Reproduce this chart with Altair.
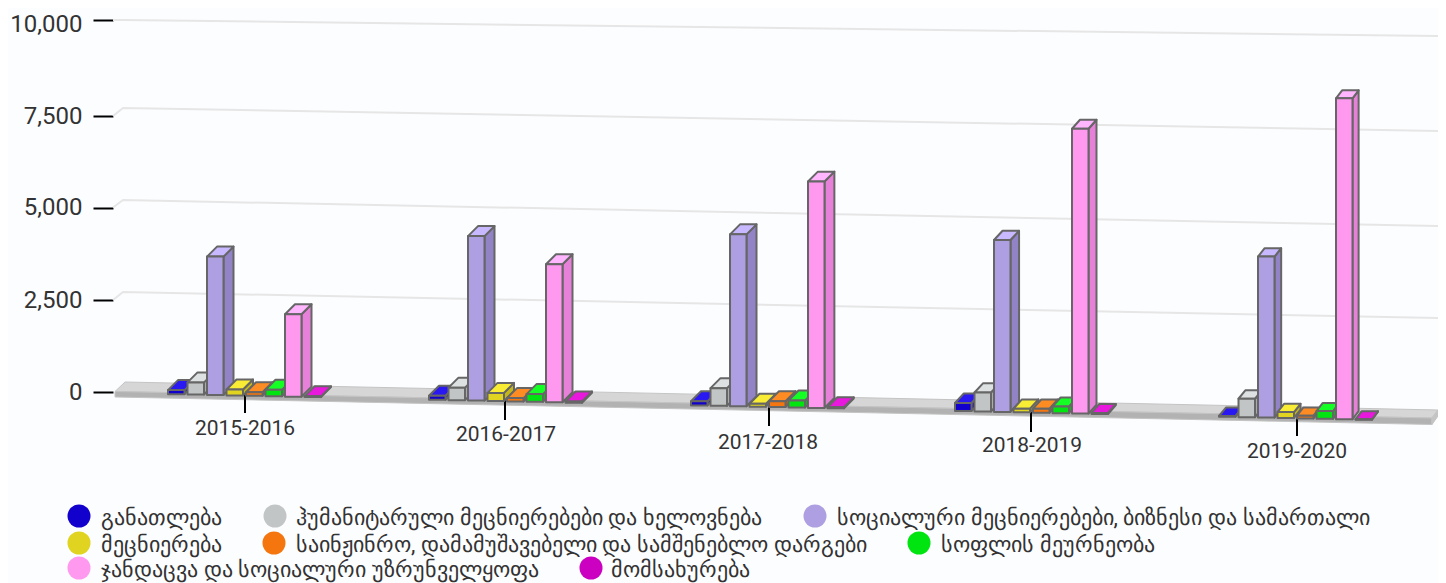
import altair as alt
import numpy as np
import pandas as pd

years = ["2015-2016", "2016-2017", "2017-2018", "2018-2019", "2019-2020"]
series = [
    "განათლება",
    "ჰუმანიტარული მეცნიერებები და ხელოვნება",
    "სოციალური მეცნიერებები, ბიზნესი და სამართალი",
    "მეცნიერება",
    "საინჟინრო, დამამუშავებელი და სამშენებლო დარგები",
    "სოფლის მეურნეობა",
    "ჯანდაცვა და სოციალური უზრუნველყოფა",
    "მომსახურება",
]
education = [110, 110, 110, 220, 20]
humanities = [330, 340, 480, 515, 500]
social = [3760, 4470, 4670, 4670, 4375]
science = [160, 220, 80, 100, 160]
engineering = [95, 90, 160, 110, 75]
agriculture = [175, 210, 190, 180, 210]
health = [2240, 3750, 6150, 7740, 8720]
services = [20, 30, 30, 30, 10]
values = [education, humanities, social, science, engineering, agriculture, health, services]

front_colors = ["#1200CC", "#C2C5C5", "#AE9FE2", "#E0D420", "#F5760E", "#00E510", "#FF99F0", "#CC00C0"]
top_colors = ["#2A18F2", "#DDE1E1", "#C8B8FF", "#F8EC34", "#FF8C22", "#14FF24", "#FFB6FF", "#E818DC"]
side_colors = ["#0E00A8", "#A9ACAC", "#9282C6", "#C4B818", "#D86200", "#00C40C", "#E680D8", "#A800A0"]

grid_levels = [2500, 5000, 7500, 10000]
grid_tick_y = [300, 207.5, 116, 20]
grid_left_y = [292, 200, 108, 14]
grid_right_y = [318, 226, 131, 36]

# ---- projection helpers (page pixels -> data units) ----
OFF = 8
Y_DOMAIN = [-2000, 0, 2500, 5000, 7500, 10000]
Y_PAGE = [465.6, 392, 300, 207.7, 116, 20]
GROUP_X = [168, 429, 691, 955, 1219]


def yval(page_y):
    return float(np.interp(-page_y, [-p for p in Y_PAGE], Y_DOMAIN))


K = 0.0368


def base_y(x):
    return 394 + 0.0215 * (x - 170)


def depth(x):
    return float(np.interp(x, [170, 800, 1360], [10, 10, 6])), float(np.interp(x, [170, 800, 1360], [10, 10, 8]))


poly_rows = []
pid = [0]


def polygon(points, fill, rows):
    """Convex polygon in page pixels -> area rows (upper and lower boundary per x)."""
    xs = sorted({round(p[0], 3) for p in points})
    n = len(points)
    edges = [(points[i], points[(i + 1) % n]) for i in range(n)]
    for x in xs:
        ys = [p[1] for p in points if abs(p[0] - x) < 1e-3]
        for a, b in edges:
            lo, hi = min(a[0], b[0]), max(a[0], b[0])
            if lo <= x <= hi and hi > lo:
                ys.append(a[1] + (b[1] - a[1]) * (x - a[0]) / (b[0] - a[0]))
        rows.append(dict(id=pid[0], x=x - OFF, y=yval(min(ys)), y2=yval(max(ys)), fill=fill))
    pid[0] += 1


for g in range(len(years)):
    for s in range(len(series)):
        x0 = GROUP_X[g] + 19.5 * s
        x1 = x0 + 16.5
        mid = (x0 + x1) / 2
        b = base_y(mid)
        t = b - values[s][g] * K
        dx, dy = depth(mid)
        polygon([(x1, t), (x1 + dx, t - dy), (x1 + dx, b - dy), (x1, b)], side_colors[s], poly_rows)
        polygon([(x0, t), (x0 + dx, t - dy), (x1 + dx, t - dy), (x1, t)], top_colors[s], poly_rows)
        polygon([(x0, t), (x1, t), (x1, b), (x0, b)], front_colors[s], poly_rows)

floor_rows = []
polygon([(125, 382), (1438, 410), (1432, 418), (115, 391.5)], "#D6D6D6", floor_rows)
polygon([(115, 391.5), (1432, 418), (1432, 424.5), (115, 397)], "#B2B2B2", floor_rows)
polygon([(1432, 418), (1438, 410), (1438, 416), (1432, 424.5)], "#C4C4C4", floor_rows)

grid_rows = []
for i, lvl in enumerate(grid_levels):
    for px, py in [(113, grid_tick_y[i]), (123, grid_left_y[i]), (1438, grid_right_y[i])]:
        grid_rows.append(dict(level=lvl, x=px - OFF, y=yval(py)))

tick_x = [245, 505, 769, 1031, 1297]
tick_top = [394, 400, 405, 412, 417]
tick_bottom = [413, 420, 426, 432, 436]
label_x = [245, 506, 768, 1032, 1297]
label_y = [429, 435, 443, 446, 452]
cat_df = pd.DataFrame(dict(
    year=years,
    x=[v - OFF for v in tick_x],
    y=[yval(v) for v in tick_top],
    y2=[yval(v) for v in tick_bottom],
    lx=[v - OFF for v in label_x],
    ly=[yval(v) for v in label_y],
))

x_scale = alt.Scale(domain=[0, 1430], range=[0, 1430])
y_scale = alt.Scale(domain=Y_DOMAIN, range=[p - OFF for p in Y_PAGE])
X = alt.X("x:Q", scale=x_scale, axis=None)

y_axis = alt.Axis(
    values=[0, 2500, 5000, 7500, 10000], labelExpr="format(datum.value, ',')", title=None, grid=False, domain=False,
    offset=-105, tickSize=20, tickWidth=2, tickColor="#000000", labelPadding=11,
    labelFont="Roboto", labelFontSize=24, labelColor="#333333",
    labelOffset={"condition": {"test": "datum.value === 10000", "value": 4}, "value": 0},
)
Y = alt.Y("y:Q", scale=y_scale, axis=y_axis)

grid = alt.Chart(pd.DataFrame(grid_rows)).mark_line(color="#E6E6E6", strokeWidth=2).encode(
    x=X, y=Y, detail="level:N"
)
floor = alt.Chart(pd.DataFrame(floor_rows)).mark_area(stroke="#C4C4C4", strokeWidth=1).encode(
    x=X, y=Y, y2="y2:Q", fill=alt.Fill("fill:N", scale=None), detail="id:N"
)
ticks = alt.Chart(cat_df).mark_rule(color="#000000", strokeWidth=2).encode(
    x=X, y=Y, y2="y2:Q"
)
bars = alt.Chart(pd.DataFrame(poly_rows)).mark_area(stroke="#666666", strokeWidth=2, strokeJoin="round").encode(
    x=X, y=Y, y2="y2:Q", fill=alt.Fill("fill:N", scale=None), detail="id:N"
)
cat_labels = alt.Chart(cat_df).mark_text(font="Roboto", fontSize=21, color="#333333").encode(
    x=alt.X("lx:Q", scale=x_scale, axis=None), y=alt.Y("ly:Q", scale=y_scale, axis=y_axis), text="year:N"
)

legend_dot_x = [79, 275, 815, 79, 274, 919, 79, 591]
legend_text_x = [101, 296, 837, 101, 296, 941, 101, 611]
legend_y = [516, 516, 516, 543, 543, 543, 568, 568]

layers = [grid, floor, ticks, bars, cat_labels]
for i, name in enumerate(series):
    row = pd.DataFrame({"name": [name]})
    layers.append(alt.Chart(row).mark_point(filled=True, opacity=1, shape="circle", size=530, color=front_colors[i]).encode(
        x=alt.value(legend_dot_x[i] - OFF), y=alt.value(legend_y[i] - OFF)))
    layers.append(alt.Chart(row).mark_text(align="left", baseline="middle", font="Roboto", fontSize=22.3, color="#333333").encode(
        x=alt.value(legend_text_x[i] - OFF), y=alt.value(legend_y[i] - OFF + 2), text="name:N"))

chart = alt.layer(*layers).properties(
    width=1430, height=575, padding=0,
    autosize=alt.AutoSizeParams(type="none"),
    background="#FCFDFF",
).configure_view(stroke=None)

chart.save("out.html", embed_options={"renderer": "svg", "actions": False})
